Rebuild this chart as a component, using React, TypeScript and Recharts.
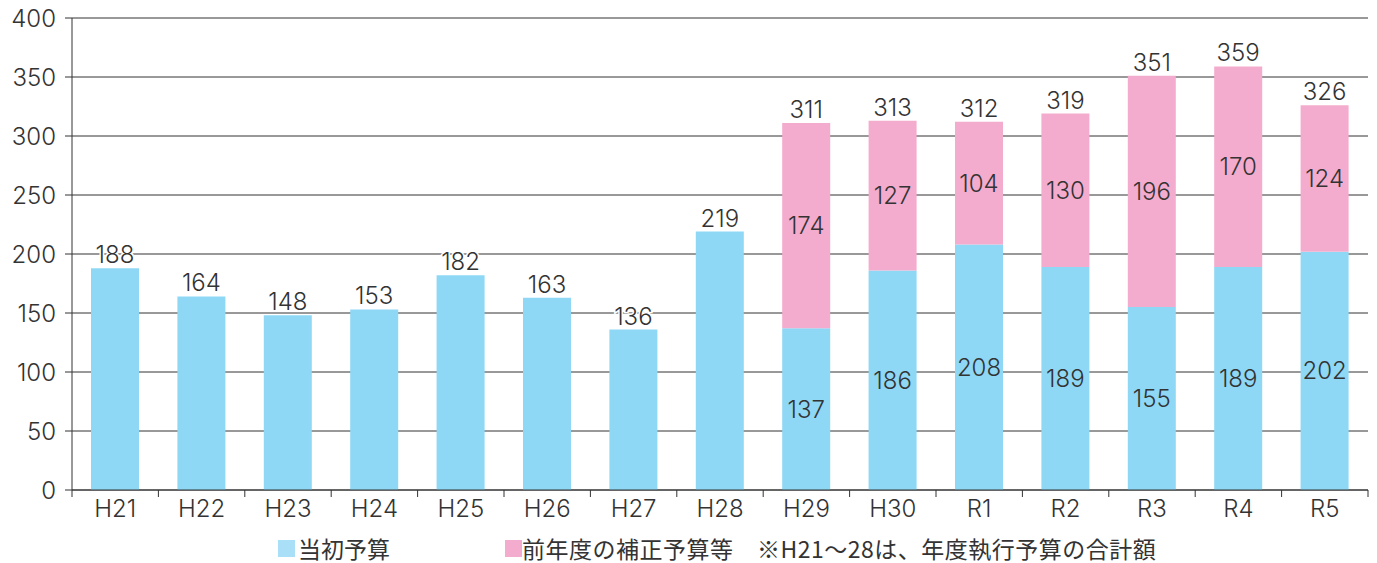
import React from 'react';
import { BarChart, Bar, XAxis, YAxis, CartesianGrid, LabelList } from 'recharts';

const categories = ['H21', 'H22', 'H23', 'H24', 'H25', 'H26', 'H27', 'H28', 'H29', 'H30', 'R1', 'R2', 'R3', 'R4', 'R5'];
const initialBudget = [188, 164, 148, 153, 182, 163, 136, 219, 137, 186, 208, 189, 155, 189, 202];
const supplementaryBudget: (number | null)[] = [null, null, null, null, null, null, null, null, 174, 127, 104, 130, 196, 170, 124];
const totals = [188, 164, 148, 153, 182, 163, 136, 219, 311, 313, 312, 319, 351, 359, 326];
const yTicks = [0, 50, 100, 150, 200, 250, 300, 350, 400];

const legendLabels = ['当初予算', '前年度の補正予算等　※H21～28は、年度執行予算の合計額'];

const BLUE = '#8ED8F6';
const PINK = '#F4ACCE';
const TEXT = '#333333';
const LINE = '#333333';
const NUM_FONT = 'Inter, "Noto Sans", sans-serif';
const JP_FONT = '"Noto Sans CJK JP", "Noto Sans", sans-serif';
const NUM_SIZE = 24;

const data = categories.map((c, i) => ({
  name: c,
  initial: initialBudget[i],
  supplementary: supplementaryBudget[i],
  total: totals[i],
}));

const NumText = ({ x, y, children, central, halo }: any) => (
  <text
    x={x}
    y={y}
    textAnchor="middle"
    dominantBaseline={central ? 'central' : 'auto'}
    fill={TEXT}
    stroke={halo ? '#fff' : 'none'}
    strokeWidth={halo ? 3 : 0}
    paintOrder="stroke"
    fontSize={NUM_SIZE}
    fontFamily={NUM_FONT}
    fontWeight={300}
  >
    {children}
  </text>
);

const BlueCenterLabel = (props: any) => {
  const { x, y, width, height, value, index } = props;
  if (supplementaryBudget[index] == null) return null;
  return <NumText x={x + width / 2} y={y + height / 2} central>{value}</NumText>;
};

const BlueTopLabel = (props: any) => {
  const { x, y, width, value, index } = props;
  if (supplementaryBudget[index] != null) return null;
  return <NumText x={x + width / 2} y={y - 5} halo>{value}</NumText>;
};

const PinkCenterLabel = (props: any) => {
  const { x, y, width, height, value } = props;
  if (value == null) return null;
  return <NumText x={x + width / 2} y={y + height / 2} central>{value}</NumText>;
};

const PinkTopLabel = (props: any) => {
  const { x, y, width, value } = props;
  if (value == null) return null;
  return <NumText x={x + width / 2} y={y - 5} halo>{value}</NumText>;
};

const XTick = (props: any) => {
  const { x, y, payload, index, visibleTicksCount } = props;
  const half = payload && payload.offset ? payload.offset : 43.2;
  return (
    <g>
      <line x1={x - half} y1={y} x2={x - half} y2={y + 7} stroke={LINE} strokeWidth={1} />
      {index === (visibleTicksCount ?? categories.length) - 1 && (
        <line x1={x + half} y1={y} x2={x + half} y2={y + 7} stroke={LINE} strokeWidth={1} />
      )}
      <text x={x} y={y + 27} textAnchor="middle" fill={TEXT} fontSize={NUM_SIZE} fontFamily={NUM_FONT} fontWeight={300}>
        {payload.value}
      </text>
    </g>
  );
};

const LegendBlock = () => (
  <div style={{ position: 'absolute', left: 0, top: 534, width: 1377, height: 30, fontFamily: JP_FONT, fontSize: 23, color: TEXT, lineHeight: '28px' }}>
    <div style={{ position: 'absolute', left: 278, top: 0, display: 'flex', alignItems: 'center' }}>
      <span style={{ display: 'inline-block', width: 17, height: 17, background: '#A9E0F8', marginRight: 3 }} />
      <span>{legendLabels[0]}</span>
    </div>
    <div style={{ position: 'absolute', left: 505, top: 0, display: 'flex', alignItems: 'center', whiteSpace: 'nowrap' }}>
      <span style={{ display: 'inline-block', width: 17, height: 17, background: PINK }} />
      <span style={{ letterSpacing: '0.5px' }}>{legendLabels[1]}</span>
    </div>
  </div>
);

export default function App() {
  return (
    <div style={{ position: 'absolute', left: 0, top: 0, width: 1377, height: 563, background: '#fff' }}>
      <BarChart
        width={1377}
        height={563}
        data={data}
        margin={{ top: 18, right: 9, bottom: 38, left: 0 }}
        barCategoryGap={0}
      >
        <CartesianGrid vertical={false} stroke={LINE} strokeWidth={1} />
        <XAxis
          dataKey="name"
          axisLine={{ stroke: LINE }}
          tickLine={false}
          tickSize={0}
          tickMargin={0}
          height={35}
          interval={0}
          tick={<XTick />}
        />
        <YAxis
          domain={[0, 400]}
          ticks={yTicks}
          width={72}
          axisLine={{ stroke: LINE }}
          tickLine={{ stroke: LINE }}
          tickSize={7}
          tickMargin={9}
          tick={{ fill: TEXT, fontSize: NUM_SIZE, fontFamily: NUM_FONT, fontWeight: 300 }}
          interval={0}
        />
        <Bar dataKey="initial" stackId="a" fill={BLUE} barSize={48} isAnimationActive={false}>
          <LabelList dataKey="initial" content={<BlueCenterLabel />} />
          <LabelList dataKey="initial" content={<BlueTopLabel />} />
        </Bar>
        <Bar dataKey="supplementary" stackId="a" fill={PINK} barSize={48} isAnimationActive={false}>
          <LabelList dataKey="supplementary" content={<PinkCenterLabel />} />
          <LabelList dataKey="total" content={<PinkTopLabel />} />
        </Bar>
      </BarChart>
      <LegendBlock />
    </div>
  );
}
